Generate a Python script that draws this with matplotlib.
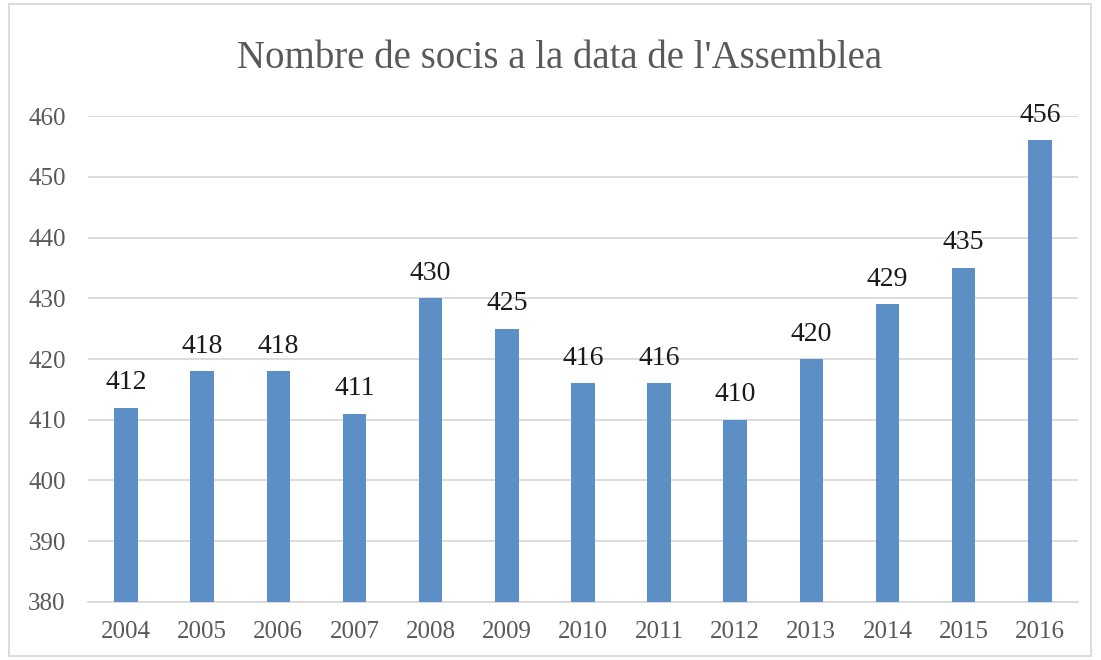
import matplotlib

matplotlib.use("Agg")
import matplotlib.pyplot as plt
from matplotlib.patches import Rectangle

years = ["2004", "2005", "2006", "2007", "2008", "2009", "2010",
         "2011", "2012", "2013", "2014", "2015", "2016"]
members = [412, 418, 418, 411, 430, 425, 416, 416, 410, 420, 429, 435, 456]
yticks = [380, 390, 400, 410, 420, 430, 440, 450, 460]

plt.rcParams["font.family"] = ["Liberation Serif", "DejaVu Serif"]

fig = plt.figure(figsize=(11.01, 6.6), dpi=100)
ax = fig.add_axes([0.0799, 0.0879, 0.8991, 0.7363])

x = range(len(years))
ax.bar(x, [m - 380 for m in members], bottom=380, width=0.31,
       color="#5b8fc6", zorder=3)
for i, m in zip(x, members):
    ax.annotate(str(m), (i, m), xytext=(0, 9), textcoords="offset points",
                ha="center", va="bottom", fontsize=20, color="#1a1a1a", zorder=4)

ax.set_xlim(-0.5, len(years) - 0.5)
ax.set_ylim(380, 460)
ax.set_yticks(yticks)
ax.set_xticks(list(x))
ax.set_xticklabels(years)
ax.tick_params(axis="both", length=0, labelsize=18, labelcolor="#595959")
ax.tick_params(axis="y", pad=16)
ax.tick_params(axis="x", pad=14)
ax.grid(axis="y", color="#d9d9d9", linewidth=1.3, zorder=0)
for s in ["top", "right", "left"]:
    ax.spines[s].set_visible(False)
ax.spines["bottom"].set_color("#d9d9d9")
ax.spines["bottom"].set_linewidth(1.3)

fig.text(0.5086, 0.912, "Nombre de socis a la data de l'Assemblea",
         ha="center", va="center", fontsize=28, color="#595959")

fig.patches.append(Rectangle((0.008, 0.006), 0.983, 0.988, transform=fig.transFigure,
                             fill=False, edgecolor="#d9d9d9", linewidth=1.3))

fig.savefig("out.png", dpi=100)
